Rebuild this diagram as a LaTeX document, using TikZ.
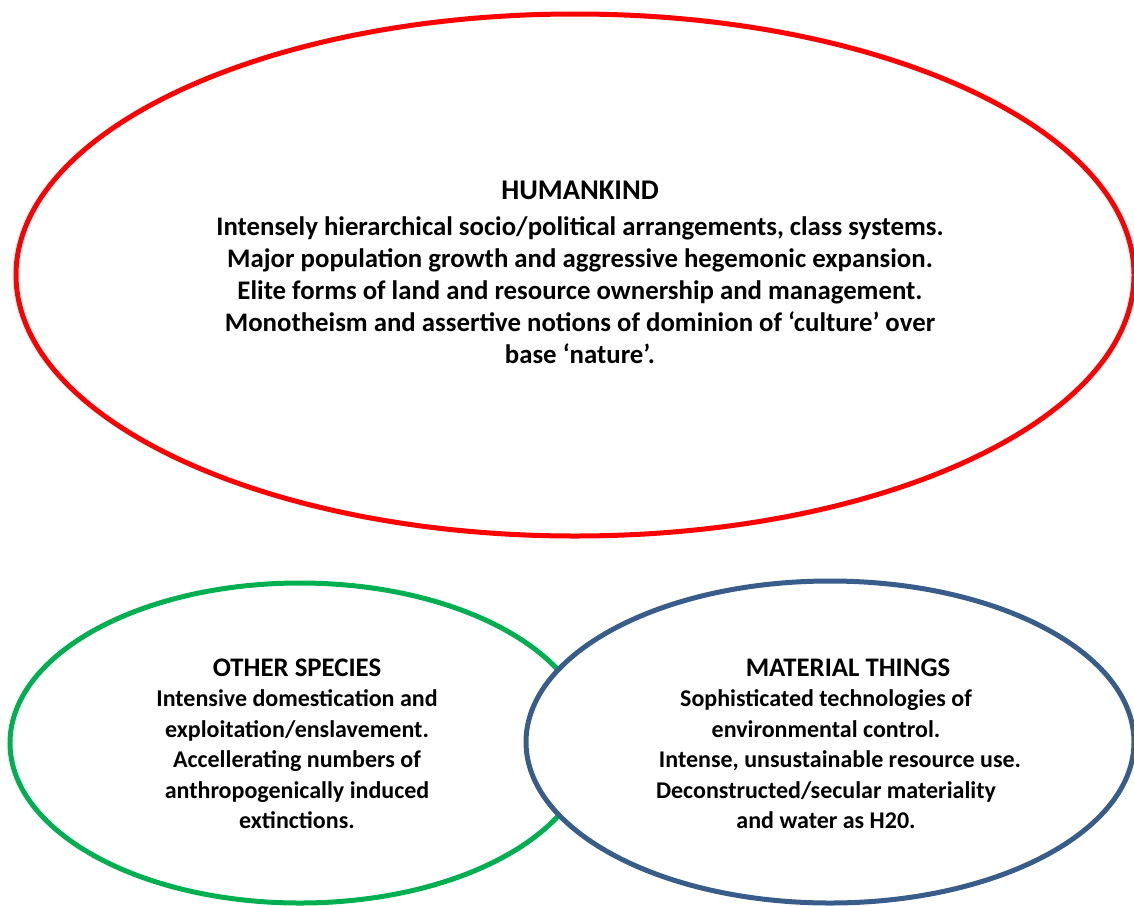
\documentclass[tikz,border=0pt]{standalone}
\usepackage{fontspec}
\setmainfont{Carlito}
\definecolor{redline}{HTML}{FF0000}
\definecolor{greenline}{HTML}{00B050}
\definecolor{blueline}{HTML}{385D8A}
\begin{document}
\begin{tikzpicture}[x=1pt,y=1pt,
  oval/.style={line width=5pt},
  txt/.style={align=center,font=\fontsize{26.8}{32}\selectfont\bfseries,inner sep=0pt},
  txts/.style={align=center,font=\fontsize{24}{30.5}\selectfont\bfseries,inner sep=0pt}]
\useasboundingbox (0,0) rectangle (1134,-905);
\draw[oval,redline] (575,-275) ellipse [x radius=559,y radius=261];
\draw[oval,greenline] (300,-743) ellipse [x radius=290,y radius=160];
\draw[oval,blueline,fill=white] (830,-742) ellipse [x radius=304,y radius=161];
\node[txt] (human) at (580,-272) {{\fontsize{28.5}{32}\selectfont HUMANKIND}\\[4pt]
Intensely hierarchical socio/political arrangements, class systems.\\
Major population growth and aggressive hegemonic expansion.\\
Elite forms of land and resource ownership and management.\\
Monotheism and assertive notions of dominion of ‘culture’ over\\
base ‘nature’.};
\node[txts] (species) at (297,-744) {{\fontsize{26.8}{30.5}\selectfont OTHER SPECIES}\\
Intensive domestication and\\
exploitation/enslavement.\\
Accellerating numbers of\\
anthropogenically induced\\
extinctions.};
\node[txts] (things) at (826,-744) {\hspace*{44pt}{\fontsize{26.8}{30.5}\selectfont MATERIAL THINGS}\\
Sophisticated technologies of\\
environmental control.\\
\hspace*{28pt}Intense, unsustainable resource use.\\
Deconstructed/secular materiality\\
and water as H20.};
\end{tikzpicture}
\end{document}
